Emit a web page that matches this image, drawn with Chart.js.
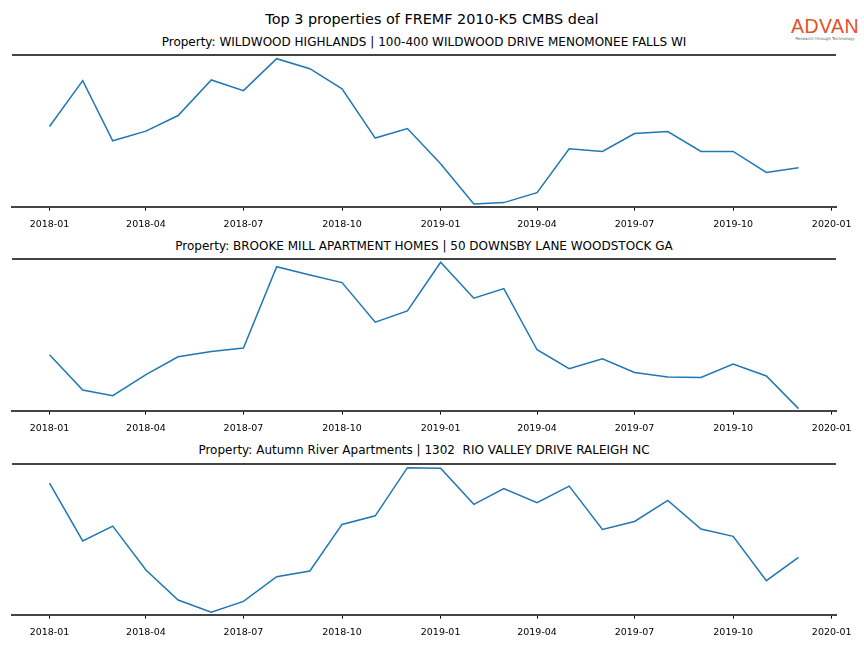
<!DOCTYPE html>
<html>
<head>
<meta charset="utf-8">
<script src="https://cdn.jsdelivr.net/npm/chart.js@4.4.1/dist/chart.umd.min.js"></script>
<style>
  body { margin: 0; background: #fff; }
  #wrap { position: relative; width: 864px; height: 648px; font-family: "DejaVu Sans", sans-serif; }
  .title { position: absolute; left: 0; width: 864px; text-align: center; color: #000; }
  .sub { position: absolute; left: 12px; width: 824px; text-align: center; font-size: 12px; color: #000; line-height: 14px; }
  canvas { position: absolute; left: 0; }
  #logo { position: absolute; left: 789px; top: 17px; width: 72px; text-align: center; }
  #logo .big { font-family: "Liberation Sans", sans-serif; font-size: 19.5px; letter-spacing: 0.5px; color: #e2502a; line-height: 19px; }
  #logo .small { font-size: 4px; color: #666; line-height: 6px; }
</style>
</head>
<body>
<div id="wrap">
  <div class="title" style="top:11px;font-size:14.4px;line-height:17px;">Top 3 properties of FREMF 2010-K5 CMBS deal</div>
  <div id="logo"><div class="big">ADVAN</div><div class="small">Research through Technology</div></div>
  <div class="sub" style="top:35px;">Property: WILDWOOD HIGHLANDS | 100-400 WILDWOOD DRIVE MENOMONEE FALLS WI</div>
  <div class="sub" style="top:239px;">Property: BROOKE MILL APARTMENT HOMES | 50 DOWNSBY LANE WOODSTOCK GA</div>
  <div class="sub" style="top:443px;">Property: Autumn River Apartments | 1302&nbsp; RIO VALLEY DRIVE RALEIGH NC</div>
  <canvas id="c1" width="864" height="208" style="top:30px;"></canvas>
  <canvas id="c2" width="864" height="208" style="top:234px;"></canvas>
  <canvas id="c3" width="864" height="207" style="top:439px;"></canvas>
</div>
<script>
const months = ['2018-01','2018-02','2018-03','2018-04','2018-05','2018-06','2018-07','2018-08','2018-09','2018-10','2018-11','2018-12',
                '2019-01','2019-02','2019-03','2019-04','2019-05','2019-06','2019-07','2019-08','2019-09','2019-10','2019-11','2019-12'];
const tickLabels = ['2018-01','2018-04','2018-07','2018-10','2019-01','2019-04','2019-07','2019-10','2020-01'];

// relative activity level per month (no y scale shown in the original)
const wildwood = [80.3,126.3,66,75.7,91.3,127,116.3,148.3,138.3,118,68.7,78.3,
                  43,2.7,4,14,58,55.3,73.3,75.3,55.3,55.3,34.3,39];
const brookeMill = [56,20.7,15,36,54,59.3,62.7,144.3,136,128.3,88.7,100,
                    148.7,112.7,122.3,61,42,52,38.3,33.7,33.3,46.7,34.7,2];
const autumnRiver = [132.7,74.3,89.3,45,14.7,2.3,13.3,38.3,44,91,99.7,148.3,
                     147.7,111.3,127.3,113,129.7,86,94,115.3,86.3,79,34.3,57.7];

function dayOf(label){
    const p = label.split('-');
    return (Date.UTC(+p[0], +p[1]-1, 1) - Date.UTC(2018, 0, 1)) / 86400000;
}
const tickDays = tickLabels.map(dayOf);

const topSpine = {
    id: 'topSpine',
    afterDraw(chart){
        const a = chart.chartArea, ctx = chart.ctx;
        ctx.save();
        ctx.strokeStyle = '#444';
        ctx.lineWidth = 2;
        ctx.beginPath();
        ctx.moveTo(a.left, a.top);
        ctx.lineTo(a.right, a.top);
        ctx.stroke();
        ctx.restore();
    }
};

function RenderLine(elementId, values){
    const ctx = document.getElementById(elementId).getContext('2d');
    return new Chart(ctx, {
        type: 'line',
        data: {
            datasets: [{
                data: months.map((m, i) => ({x: dayOf(m), y: values[i]})),
                borderColor: '#1f77b4',
                borderWidth: 1.5,
                pointRadius: 0,
                tension: 0,
                fill: false
            }]
        },
        options: {
            responsive: false,
            animation: false,
            layout: { padding: { left: 12, right: 28, top: 25, bottom: 0 } },
            plugins: { legend: { display: false }, tooltip: { enabled: false } },
            scales: {
                x: {
                    type: 'linear',
                    min: -35,
                    max: 734,
                    afterBuildTicks: s => { s.ticks = tickDays.map(v => ({value: v})); },
                    ticks: {
                        autoSkip: false,
                        maxRotation: 0,
                        padding: 8,
                        color: '#000',
                        font: { family: 'DejaVu Sans', size: 9.5 },
                        callback: v => tickLabels[tickDays.indexOf(v)]
                    },
                    grid: { drawOnChartArea: false, drawTicks: true, tickLength: 4, color: '#000' },
                    border: { display: true, color: '#444', width: 2 }
                },
                y: { display: false, min: 0, max: 152 }
            }
        },
        plugins: [topSpine]
    });
}

RenderLine('c1', wildwood);
RenderLine('c2', brookeMill);
RenderLine('c3', autumnRiver);
</script>
</body>
</html>
